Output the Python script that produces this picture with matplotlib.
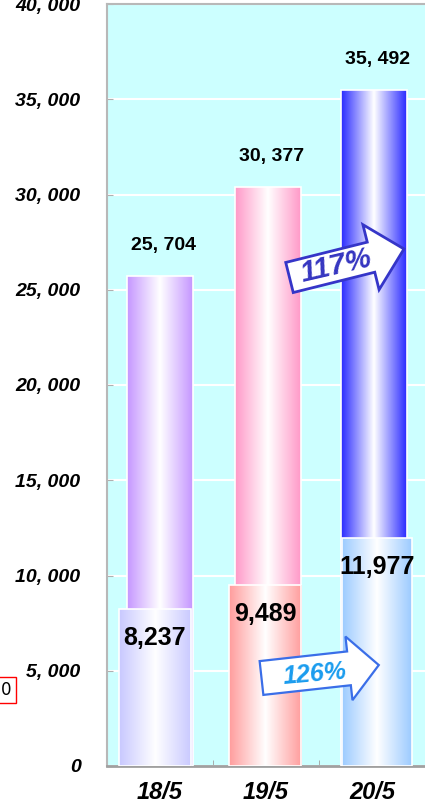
import numpy as np
import matplotlib
matplotlib.use("Agg")
import matplotlib.pyplot as plt
from matplotlib.colors import LinearSegmentedColormap
from matplotlib.patches import Polygon

# ---- data ----
categories = ["18/5", "19/5", "20/5"]
total_values = [25704, 30377, 35492]
sub_values = [8237, 9489, 11977]
arrow_labels = ["117%", "126%"]
y_ticks = [0, 5000, 10000, 15000, 20000, 25000, 30000, 35000, 40000]

# ---- styles ----
back_colors = ["#c596ff", "#ff99c8", "#2a2aff"]
front_colors = ["#c8c8ff", "#ff9c9c", "#9ccbff"]
back_offsets = [0.0, 0.02, 0.02]
front_offsets = [-0.05, -0.01, 0.05]
back_width = 0.62
front_widths = [0.68, 0.68, 0.66]

FONT = ['Liberation Sans', 'DejaVu Sans']
plt.rcParams['font.family'] = FONT

W, H = 425, 808
fig = plt.figure(figsize=(W / 100, H / 100), dpi=100)
ax = fig.add_axes([107 / W, 1 - 766 / H, 1 - 107 / W, (766 - 4) / H])
ax.set_facecolor("#ccffff")

x = np.arange(len(categories))


def gradient_fill(patch, color, z):
    cmap = LinearSegmentedColormap.from_list("g", [color, "white", color])
    x0 = patch.get_x()
    x1 = x0 + patch.get_width()
    y0 = patch.get_y()
    y1 = y0 + patch.get_height()
    im = ax.imshow(np.linspace(0, 1, 256).reshape(1, -1), cmap=cmap,
                   extent=[x0, x1, y0, y1], aspect="auto", zorder=z,
                   interpolation="bilinear")
    im.set_clip_path(patch)


back = ax.bar(x + np.array(back_offsets), total_values, width=back_width,
              facecolor="none", edgecolor="white", linewidth=1.2, zorder=3)
for p, c in zip(back.patches, back_colors):
    gradient_fill(p, c, 2)

front = ax.bar(x + np.array(front_offsets), sub_values, width=front_widths,
               facecolor="none", edgecolor="white", linewidth=1.2, zorder=5)
for p, c in zip(front.patches, front_colors):
    gradient_fill(p, c, 4)

ax.set_xlim(-0.5, 2.5)
ax.set_ylim(0, 40000)

# gridlines
ax.set_axisbelow(True)
ax.yaxis.grid(True, color="white", linewidth=1.5)
ax.set_yticks(y_ticks)
ax.set_yticklabels([f"{v:,}".replace(",", ", ") for v in y_ticks],
                   fontsize=14, fontweight="bold", fontstyle="italic")
ax.tick_params(axis="y", direction="in", length=4, color="#b0b0b0", pad=19)

ax.set_xticks(x)
ax.set_xticklabels(categories, fontsize=17, fontweight="bold", fontstyle="italic")
ax.set_xticks([0.5, 1.5], minor=True)
ax.tick_params(axis="x", which="major", length=0, pad=11)
ax.tick_params(axis="x", which="minor", direction="in", length=4, color="#a0a0a0")

for s in ["left", "top"]:
    ax.spines[s].set_color("#b8b8b8")
    ax.spines[s].set_linewidth(1.5)
ax.spines["bottom"].set_color("#a0a0a0")
ax.spines["bottom"].set_linewidth(2)
ax.spines["right"].set_visible(False)

# value labels on totals
for xi, off, v in zip(x, back_offsets, total_values):
    ax.annotate(f"{v:,}".replace(",", ", "), (xi + off + 0.03, v),
                xytext=(0, 22), textcoords="offset points", ha="center",
                va="center", fontsize=14, fontweight="bold", zorder=8)

# value labels on sub bars
for xi, off, v in zip(x, front_offsets, sub_values):
    ax.annotate(f"{v:,}", (xi + off, v), xytext=(0, -21), textcoords="offset points",
                ha="center", va="center", fontsize=18, fontweight="bold", zorder=8)


# ---- growth arrows (decorative, figure pixel geometry) ----
def arrow(tail, L, ang_deg, sw, hw, hl, ec, lw):
    a = np.deg2rad(ang_deg)
    pts = np.array([(0, -sw / 2), (L - hl, -sw / 2), (L - hl, -hw / 2), (L, 0),
                    (L - hl, hw / 2), (L - hl, sw / 2), (0, sw / 2)])
    R = np.array([[np.cos(a), -np.sin(a)], [np.sin(a), np.cos(a)]])
    pr = pts @ R.T
    px = tail[0] + pr[:, 0]
    py = tail[1] - pr[:, 1]
    verts = np.column_stack([px / W, 1 - py / H])
    poly = Polygon(verts, closed=True, facecolor="white", edgecolor=ec,
                   linewidth=lw, transform=fig.transFigure, zorder=9, clip_on=False)
    ax.add_patch(poly)


arrow((289.5, 277.5), 118, 14, 31, 67, 34, "#3535c8", 2.0)
fig.text(336 / W, 1 - 266 / H, arrow_labels[0], color="#3535c0", fontsize=21,
         fontweight="bold", fontstyle="italic", rotation=13, ha="center", va="center",
         zorder=10)

arrow((261.5, 678), 118, 6.3, 34, 64, 30, "#3a6ee8", 1.6)
fig.text(315 / W, 1 - 674 / H, arrow_labels[1], color="#1a9cee", fontsize=18,
         fontweight="bold", fontstyle="italic", rotation=5, ha="center", va="center",
         zorder=10)

# stray boxed "0" at left edge
fig.text(1 / W, 1 - 690 / H, "0", fontsize=12, ha="left", va="center",
         family="DejaVu Sans",
         bbox=dict(boxstyle="square,pad=0.25", facecolor="white", edgecolor="red",
                   linewidth=1))

fig.savefig("out.png", dpi=100)
